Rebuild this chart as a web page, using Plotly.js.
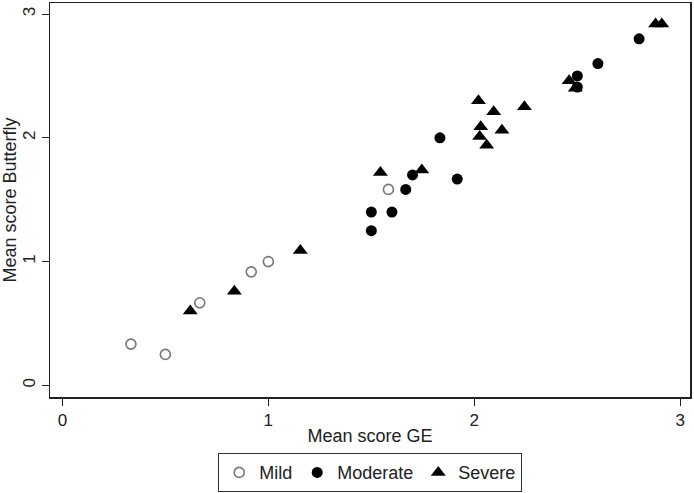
<!DOCTYPE html>
<html>
<head>
<meta charset="utf-8">
<script src="https://cdn.plot.ly/plotly-3.0.1.min.js"></script>
<style>html,body{margin:0;padding:0;background:#fff;}#chart{width:694px;height:493px;}</style>
</head>
<body>
<div id="chart"></div>
<script>
// Data
const mildGE = [0.333, 0.5, 0.667, 0.917, 1.0, 1.583];
const mildBF = [0.333, 0.25, 0.667, 0.917, 1.0, 1.583];

const moderateGE = [2.8, 2.6, 2.5, 2.5, 1.833, 1.7, 1.667, 1.917, 1.5, 1.6, 1.5];
const moderateBF = [2.8, 2.6, 2.5, 2.41, 2.0, 1.7, 1.583, 1.667, 1.4, 1.4, 1.25];

const severeGE = [2.88, 2.91, 2.46, 2.49, 2.02, 2.094, 2.243, 2.031, 2.134, 2.026, 2.06, 1.544, 1.745, 0.621, 0.835, 1.155];
const severeBF = [2.92, 2.92, 2.46, 2.40, 2.30, 2.21, 2.25, 2.09, 2.06, 2.01, 1.94, 1.72, 1.74, 0.60, 0.76, 1.09];

const seriesNames = ['Mild', 'Moderate', 'Severe'];
const xTicks = [0, 1, 2, 3];
const yTicks = [0, 1, 2, 3];

const FONT = 'Liberation Sans, Arial, sans-serif';

const traces = [
  {x: mildGE, y: mildBF, name: seriesNames[0], type: 'scatter', mode: 'markers',
   marker: {symbol: 'circle-open', size: 10, color: '#777', line: {width: 1.6, color: '#777'}}},
  {x: moderateGE, y: moderateBF, name: seriesNames[1], type: 'scatter', mode: 'markers',
   marker: {symbol: 'circle', size: 11, color: '#000'}},
  {x: severeGE, y: severeBF, name: seriesNames[2], type: 'scatter', mode: 'markers',
   marker: {symbol: 'triangle-up', size: 13, color: '#000'}}
];

const axisCommon = {
  showgrid: false, zeroline: false, showline: true, mirror: true,
  linecolor: '#222', linewidth: 1.5,
  ticks: 'outside', ticklen: 7, tickwidth: 1, tickcolor: '#222',
  tickfont: {family: FONT, size: 17, color: '#222'},
  tickmode: 'array'
};

const layout = {
  width: 694, height: 493,
  margin: {l: 50, r: 4, t: 3, b: 96},
  paper_bgcolor: '#fff', plot_bgcolor: '#fff',
  font: {family: FONT, color: '#222'},
  xaxis: Object.assign({}, axisCommon, {
    range: [-0.06, 3.047], tickvals: xTicks, ticktext: xTicks.map(String),
    title: {text: 'Mean score GE', font: {family: FONT, size: 18, color: '#222'}, standoff: 0}
  }),
  yaxis: Object.assign({}, axisCommon, {
    range: [-0.094, 3.089], tickvals: yTicks, ticktext: yTicks.map(String), tickangle: -90,
    title: {text: 'Mean score Butterfly', font: {family: FONT, size: 18, color: '#222'}, standoff: 5}
  }),
  showlegend: true,
  legend: {
    orientation: 'h', x: 0.5, xanchor: 'center',
    yref: 'container', y: 0.0811, yanchor: 'top',
    bordercolor: '#333', borderwidth: 1.2, bgcolor: '#fff',
    font: {family: FONT, size: 18, color: '#222'},
    itemwidth: 30
  }
};

Plotly.newPlot('chart', traces, layout, {displayModeBar: false, staticPlot: true});
</script>
</body>
</html>
